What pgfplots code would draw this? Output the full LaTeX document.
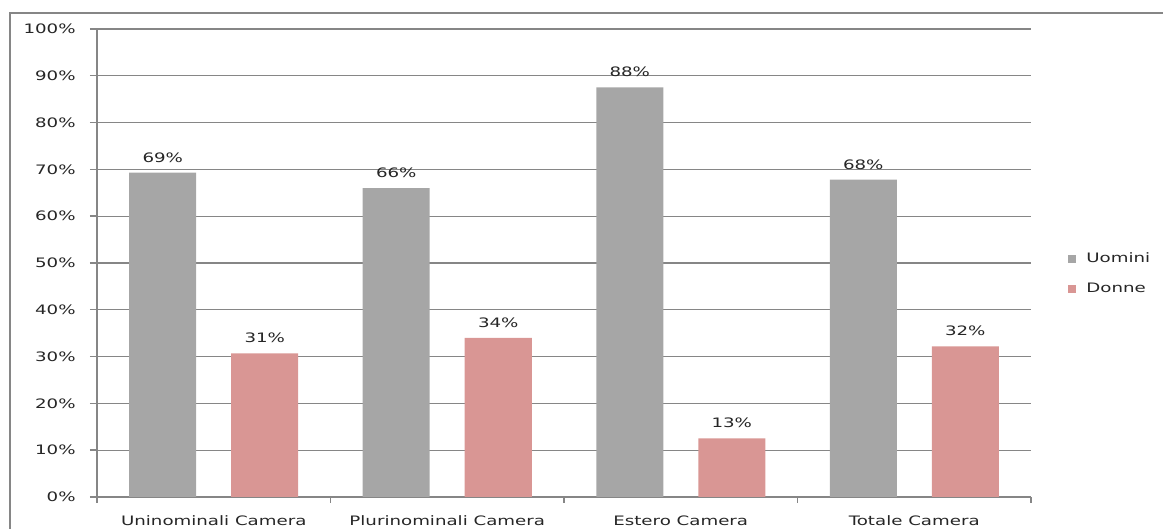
\documentclass[border=0pt]{standalone}
\usepackage{fontspec}
\setmainfont{DejaVu Sans}[FakeStretch=1.4]
\usepackage{pgfplots}
\pgfplotsset{compat=1.18}
\definecolor{gbar}{HTML}{A6A6A6}
\definecolor{pbar}{HTML}{D99694}
\definecolor{axg}{HTML}{868686}
\newcommand{\cf}{\fontsize{6.5}{7.5}\selectfont}
\begin{document}
\begin{tikzpicture}
\useasboundingbox (-48.5pt,-16pt) rectangle (533pt,248.5pt);
\clip (-48.5pt,-16pt) rectangle (533pt,248.5pt);
\draw[axg, line width=1pt] (-43.5pt,242pt) rectangle (560pt,-40pt);
\begin{axis}[
  at={(0pt,0pt)}, anchor=south west,
  width=467pt, height=234pt, scale only axis,
  xmin=-0.5, xmax=3.5, ymin=0, ymax=100,
  ybar=17.5pt, bar width=33.5pt,
  xtick={0,1,2,3},
  xticklabels={Uninominali Camera, Plurinominali Camera, Estero Camera, Totale Camera},
  minor xtick={-0.5,0.5,1.5,2.5,3.5},
  major x tick style={draw=none},
  minor x tick style={draw=axg, line width=0.7pt},
  minor tick length=3pt,
  ytick={0,10,...,100},
  yticklabel={\pgfmathprintnumber{\tick}\%},
  y tick style={draw=axg, line width=0.7pt},
  major tick length=3.5pt,
  tick align=outside,
  ymajorgrids, grid style={draw=axg, line width=0.6pt},
  axis x line*=bottom, axis y line*=left,
  axis line style={draw=axg, line width=0.8pt, -},
  /pgf/number format/assume math mode=true,
  tick label style={font=\cf, text=black!85, inner sep=0pt},
  xticklabel style={yshift=-5.5pt},
  yticklabel style={xshift=-7pt},
  point meta=explicit symbolic,
  nodes near coords,
  every node near coord/.append style={font=\cf, text=black!85, inner sep=0pt, yshift=5pt},
  legend style={at={(1.0396,0.4765)}, anchor=west, draw=none, fill=none, font=\cf, text=black!85, inner sep=0pt, row sep=5pt,
    /tikz/every odd column/.append style={column sep=3pt}},
  legend cell align=left,
  legend image code/.code={\fill[#1] (0pt,-2pt) rectangle (4pt,2pt);},
]
\addplot[fill=gbar, draw=none] coordinates {(0,69.3)[69\%] (1,66.0)[66\%] (2,87.5)[88\%] (3,67.8)[68\%]};
\addplot[fill=pbar, draw=none] coordinates {(0,30.7)[31\%] (1,34.0)[34\%] (2,12.5)[13\%] (3,32.2)[32\%]};
\legend{Uomini, Donne}
\end{axis}
\end{tikzpicture}
\end{document}
